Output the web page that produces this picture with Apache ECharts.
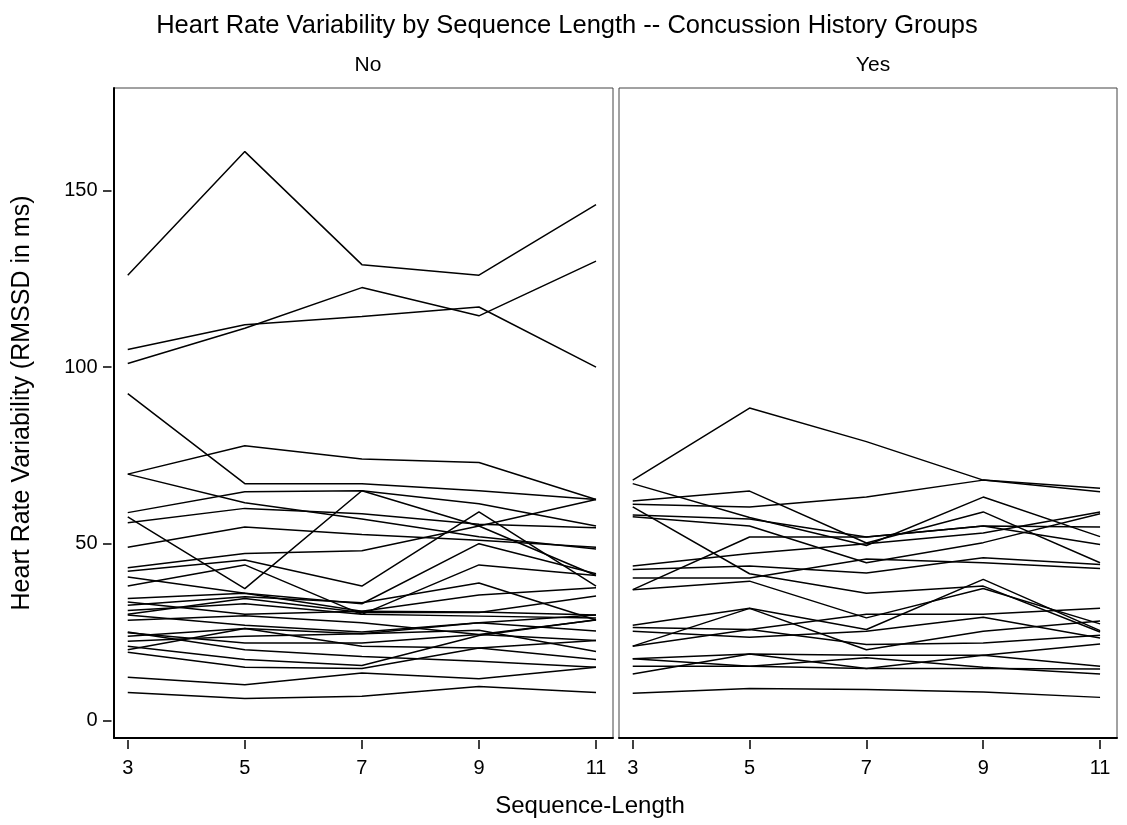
<!DOCTYPE html>
<html>
<head>
<meta charset="utf-8">
<title>Heart Rate Variability by Sequence Length</title>
<script src="https://cdn.jsdelivr.net/npm/echarts@6/dist/echarts.min.js"></script>
<style>
  html, body { margin: 0; padding: 0; background: #fff; }
  #chart { width: 1127px; height: 825px; }
</style>
</head>
<body>
<div id="chart"></div>
<script>
// sequence lengths on the x axis
var seqLengths = [3, 5, 7, 9, 11];
var xTicks = [3, 5, 7, 9, 11];
var yTicks = [0, 50, 100, 150];
var panelNames = ['No', 'Yes'];

// RMSSD (ms) per subject -- no concussion history
var noSubjects = [
  [126, 161, 129, 126, 146],
  [101, 111, 122.5, 114.5, 130],
  [105, 112, 114.3, 117, 100],
  [92.5, 67, 67, 65, 62.5],
  [69.7, 77.7, 74, 73, 62.5],
  [69.7, 61.6, 57, 52, 48.5],
  [58.8, 64.7, 65, 61.3, 55],
  [57.6, 37.3, 65, 55, 41],
  [55.9, 60, 58.5, 55.5, 54.5],
  [49, 54.7, 52.6, 51, 49],
  [43.2, 47.2, 48, 55, 62.5],
  [42.2, 45.4, 38, 59, 38],
  [40.6, 36, 33, 50, 41.5],
  [38, 44, 30, 44, 41],
  [34.5, 36, 30.9, 35.5, 37.5],
  [33.5, 30, 30.9, 30.7, 29.8],
  [32.6, 35, 33.3, 38.9, 28.4],
  [31.1, 33, 30, 29.5, 29],
  [29.8, 26.9, 25, 27.6, 25.3],
  [28.3, 29.6, 27.6, 24.3, 22.6],
  [24.8, 21.9, 21.9, 24.3, 28.4],
  [23.8, 26, 21, 20.5, 22.6],
  [22.4, 23.8, 24.5, 25.5, 19.5],
  [21, 17.2, 15.5, 24, 28.5],
  [20, 26, 24.5, 27.6, 29.8],
  [19.3, 15, 14.7, 20.5, 17.2],
  [25, 20, 18.1, 16.7, 15],
  [12.2, 10.1, 13.4, 11.8, 15],
  [7.9, 6.2, 6.8, 9.6, 7.9],
  [30, 34.5, 30.5, 30.5, 35.2]
];

// concussion history
var yesSubjects = [
  [68, 88.4, 78.9, 68, 65.7],
  [67, 57.4, 49.5, 63.2, 52],
  [62.1, 64.9, 50.2, 59, 44.6],
  [61.2, 60.4, 63.2, 68, 64.7],
  [60.4, 41.5, 36, 38, 25],
  [58.1, 57, 51.9, 55, 54.7],
  [57.6, 55, 44.6, 50.3, 58.5],
  [43.7, 47.2, 50, 53, 59],
  [42.7, 43.7, 41.7, 46, 44.1],
  [40.3, 40.3, 45.7, 44.6, 43],
  [37, 51.9, 51.9, 55, 49.8],
  [37, 39.4, 29, 37.3, 27.3],
  [26.9, 31.7, 25.7, 39.9, 25.4],
  [26.3, 25.7, 30, 30, 31.7],
  [25.2, 23.5, 25.2, 29.2, 23.3],
  [21, 31.7, 20, 25.2, 28.1],
  [21, 25.7, 21.5, 21.9, 24.1],
  [17.4, 18.8, 18.4, 18.4, 21.6],
  [15.3, 15.3, 14.7, 18.4, 15.3],
  [13.1, 18.8, 14.7, 14.7, 14.5],
  [17.4, 15.3, 17.7, 15, 13.1],
  [7.7, 9, 8.7, 8, 6.5]
];

var FONT = '"Liberation Sans", Arial, Helvetica, sans-serif';
var X_MIN = 2.765, X_MAX = 11.29;
var Y_MIN = -5, Y_MAX = 179;

function toSeries(list, axisIdx) {
  return list.map(function (vals, i) {
    return {
      type: 'line',
      name: 'subject-' + axisIdx + '-' + i,
      data: seqLengths.map(function (x, j) { return [x, vals[j]]; }),
      xAxisIndex: axisIdx,
      yAxisIndex: axisIdx,
      showSymbol: false,
      silent: true,
      animation: false,
      lineStyle: { color: '#000', width: 1.5 }
    };
  });
}

// ticks/labels axis (a bit away from the frame) + a plain thick frame axis
function xAxes(gridIndex) {
  return [
    {
      type: 'value', gridIndex: gridIndex, min: X_MIN, max: X_MAX, offset: 2, position: 'bottom',
      axisLine: { show: false, onZero: false },
      axisTick: { show: true, customValues: xTicks, length: 9, lineStyle: { color: '#000', width: 1.5 } },
      axisLabel: { show: true, customValues: xTicks, margin: 18, color: '#000', fontSize: 20, fontFamily: FONT },
      splitLine: { show: false }
    },
    {
      type: 'value', gridIndex: gridIndex, min: X_MIN, max: X_MAX, position: 'bottom',
      axisLine: { show: true, onZero: false, lineStyle: { color: '#000', width: 2 } },
      axisTick: { show: false }, axisLabel: { show: false }, splitLine: { show: false }
    }
  ];
}

var chart = echarts.init(document.getElementById('chart'), null, { renderer: 'canvas' });

chart.setOption({
  backgroundColor: '#fff',
  animation: false,
  title: [
    { text: 'Heart Rate Variability by Sequence Length -- Concussion History Groups', left: 562, top: 8, textAlign: 'center',
      textStyle: { fontFamily: FONT, fontSize: 25.5, fontWeight: 'normal', color: '#000' } },
    { text: panelNames[0], left: 363, top: 50, textAlign: 'center',
      textStyle: { fontFamily: FONT, fontSize: 21, fontWeight: 'normal', color: '#000' } },
    { text: panelNames[1], left: 868, top: 50, textAlign: 'center',
      textStyle: { fontFamily: FONT, fontSize: 21, fontWeight: 'normal', color: '#000' } }
  ],
  grid: [
    { left: 114, top: 88, width: 499, height: 650, show: true, borderColor: '#444', borderWidth: 1, backgroundColor: '#fff' },
    { left: 619, top: 88, width: 498, height: 650, show: true, borderColor: '#444', borderWidth: 1, backgroundColor: '#fff' }
  ],
  // order: 0 ticks left, 1 frame left, 2 ticks right, 3 frame right
  xAxis: [].concat(xAxes(0), xAxes(1)),
  yAxis: [
    {
      type: 'value', gridIndex: 0, min: Y_MIN, max: Y_MAX, offset: 2.5, position: 'left',
      axisLine: { show: false, onZero: false },
      axisTick: { show: true, customValues: yTicks, length: 8.5, lineStyle: { color: '#000', width: 1.5 } },
      axisLabel: { show: true, customValues: yTicks, margin: 14, color: '#000', fontSize: 20, fontFamily: FONT },
      splitLine: { show: false }
    },
    {
      type: 'value', gridIndex: 0, min: Y_MIN, max: Y_MAX, position: 'left',
      axisLine: { show: true, onZero: false, lineStyle: { color: '#000', width: 2 } },
      axisTick: { show: false }, axisLabel: { show: false }, splitLine: { show: false }
    },
    {
      type: 'value', gridIndex: 1, min: Y_MIN, max: Y_MAX, position: 'left',
      axisLine: { show: false, onZero: false }, axisTick: { show: false }, axisLabel: { show: false }, splitLine: { show: false }
    }
  ],
  graphic: [
    { type: 'text', x: 590, y: 806,
      style: { text: 'Sequence-Length', font: '24px ' + FONT, fill: '#000', align: 'center', verticalAlign: 'middle' }, silent: true },
    { type: 'text', x: 22, y: 403, rotation: Math.PI / 2,
      style: { text: 'Heart Rate Variability (RMSSD in ms)', font: '25px ' + FONT, fill: '#000',
               align: 'center', verticalAlign: 'middle' }, silent: true }
  ],
  series: [].concat(toSeries(noSubjects, 0), toSeries(yesSubjects, 2))
});
</script>
</body>
</html>
